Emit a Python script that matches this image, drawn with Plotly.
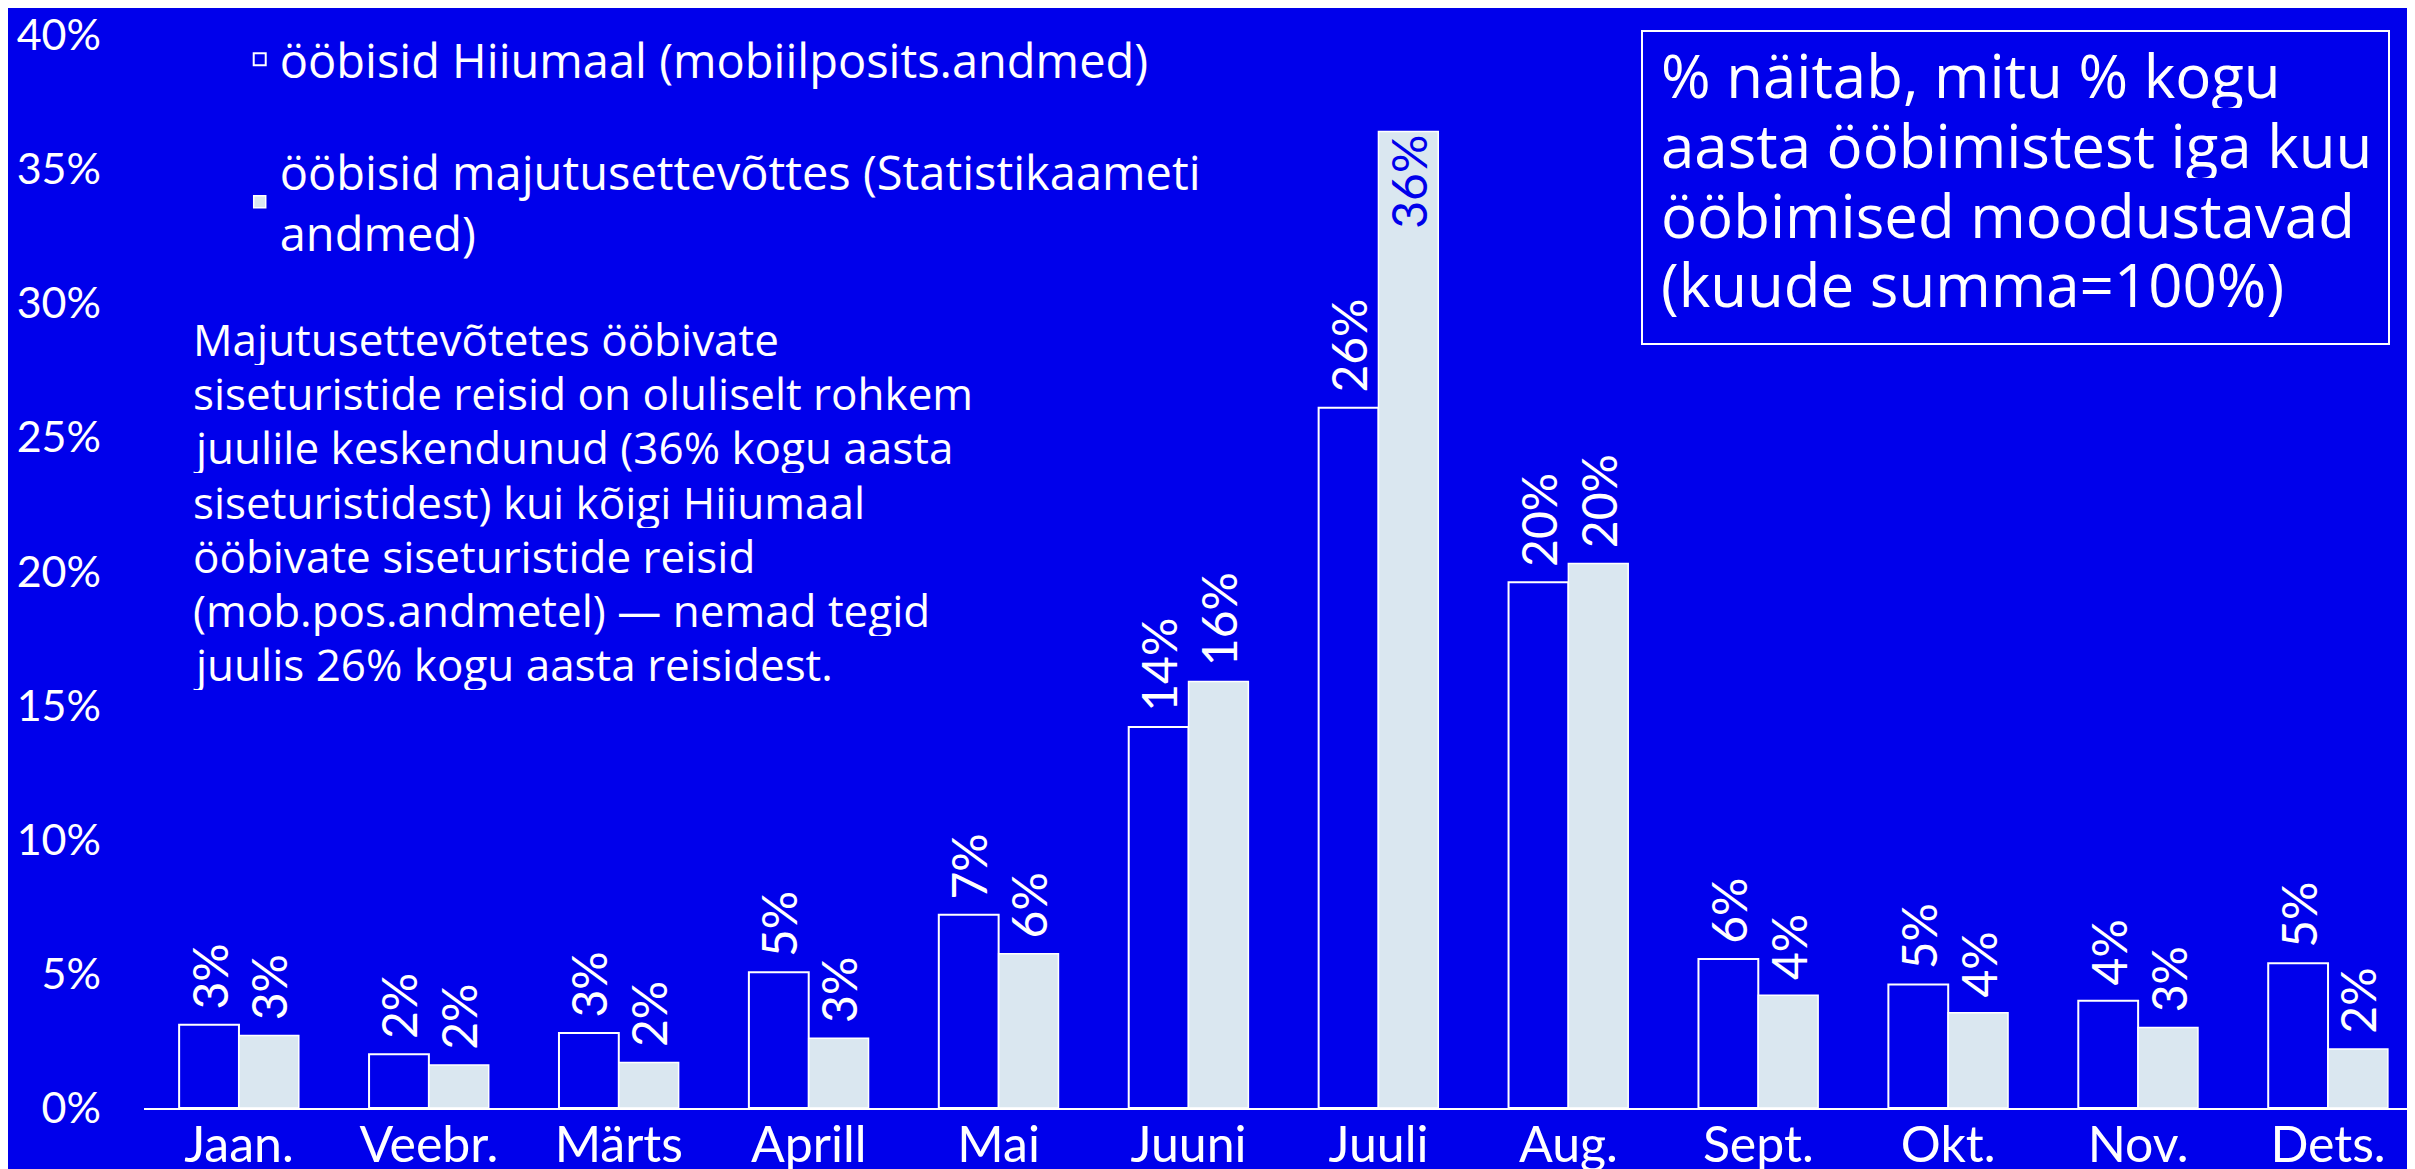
import plotly.graph_objects as go

months = ["Jaan.", "Veebr.", "Märts", "Aprill", "Mai", "Juuni", "Juuli", "Aug.", "Sept.", "Okt.", "Nov.", "Dets."]
mobile_pct = [3.1, 2.0, 2.8, 5.06, 7.2, 14.2, 26.1, 19.6, 5.55, 4.6, 4.0, 5.4]
stat_pct = [2.7, 1.6, 1.7, 2.6, 5.75, 15.9, 36.4, 20.3, 4.2, 3.55, 3.0, 2.2]
series_names = ["ööbisid Hiiumaal (mobiilposits.andmed)",
                "ööbisid majutusettevõttes (Statistikaameti<br>andmed)"]
y_ticks = [0, 5, 10, 15, 20, 25, 30, 35, 40]
y_tick_text = ["0%", "5%", "10%", "15%", "20%", "25%", "30%", "35%", "40%"]

note_lines = ["Majutusettevõtetes ööbivate",
              "siseturistide reisid on oluliselt rohkem",
              "juulile keskendunud (36% kogu aasta",
              "siseturistidest) kui kõigi Hiiumaal",
              "ööbivate siseturistide reisid",
              "(mob.pos.andmetel) — nemad tegid",
              "juulis 26% kogu aasta reisidest."]
box_lines = ["% näitab, mitu % kogu",
             "aasta ööbimistest iga kuu",
             "ööbimised moodustavad",
             "(kuude summa=100%)"]

BG = "#0000EB"
LIGHT = "#DAE7F0"
TICKFONT = "Lato"
TEXTFONT = "Open Sans"

# plot area in pixels (for placing annotations)
L, R, T, B = 136, 2415, 27, 1100
def px_x(p):
    return (p - L) / (R - L)
def px_y(p):
    return (B - p) / (B - T)

NB = "\u00a0"
fig = go.Figure()
fig.add_trace(go.Bar(
    x=months, y=mobile_pct, name=series_names[0], legendgroup="a",
    marker=dict(color=BG, line=dict(color="white", width=2)),
    texttemplate=NB + "%{y:.0f}%", textposition="outside", textangle=-90,
    constraintext="none", cliponaxis=False,
    textfont=dict(family=TICKFONT, size=48, color="white"),
))
stat_inside = [v > 33 for v in stat_pct]
fig.add_trace(go.Bar(
    x=months, y=stat_pct, name=series_names[1], legendgroup="b",
    marker=dict(color=LIGHT, line=dict(color="white", width=1.5)),
    texttemplate=["%{y:.0f}%" if s else NB + "%{y:.0f}%" for s in stat_inside],
    textposition=["inside" if s else "outside" for s in stat_inside], textangle=-90,
    insidetextanchor="end", constraintext="none", cliponaxis=False,
    textfont=dict(family=TICKFONT, size=48, color=[BG if s else "white" for s in stat_inside]),
))

fig.update_layout(
    width=2415, height=1169,
    paper_bgcolor=BG, plot_bgcolor=BG,
    margin=dict(l=L, r=2415 - R, t=T, b=1169 - B),
    barmode="group", bargap=0.37, bargroupgap=0,
    showlegend=True,
    legend=dict(x=0.042, y=1.012, xanchor="left", yanchor="top",
                font=dict(family=TEXTFONT, size=47, color="white"),
                tracegroupgap=48, traceorder="grouped", bgcolor="rgba(0,0,0,0)"),
    xaxis=dict(showline=True, linecolor="white", linewidth=2, ticks="", automargin=False,
               tickfont=dict(family=TICKFONT, size=50, color="white"),
               ticklabelstandoff=-8, showgrid=False, zeroline=False),
    yaxis=dict(range=[0, 40], tickvals=y_ticks, ticktext=y_tick_text, showgrid=False,
               zeroline=False, showline=False, ticks="", automargin=False,
               tickfont=dict(family=TICKFONT, size=43, color="white"),
               ticklabelstandoff=42),
    font=dict(family=TEXTFONT, color="white"),
)

for i, line in enumerate(note_lines):
    fig.add_annotation(
        xref="paper", yref="paper", x=px_x(183), y=px_y(331 + 54.2 * i),
        xanchor="left", yanchor="middle", align="left", valign="middle",
        showarrow=False, height=52,
        text=line, font=dict(family=TEXTFONT, size=44, color="white"),
    )

fig.add_shape(type="rect", xref="paper", yref="paper",
              x0=px_x(1634), x1=px_x(2381), y0=px_y(336), y1=px_y(23),
              line=dict(color="white", width=2), fillcolor="rgba(0,0,0,0)")
for i, line in enumerate(box_lines):
    fig.add_annotation(
        xref="paper", yref="paper", x=px_x(1651), y=px_y(67 + 69.5 * i),
        xanchor="left", yanchor="middle", align="left", valign="middle",
        showarrow=False, height=67,
        text=line, font=dict(family=TEXTFONT, size=60, color="white"),
    )

fig.write_html("out.html")
